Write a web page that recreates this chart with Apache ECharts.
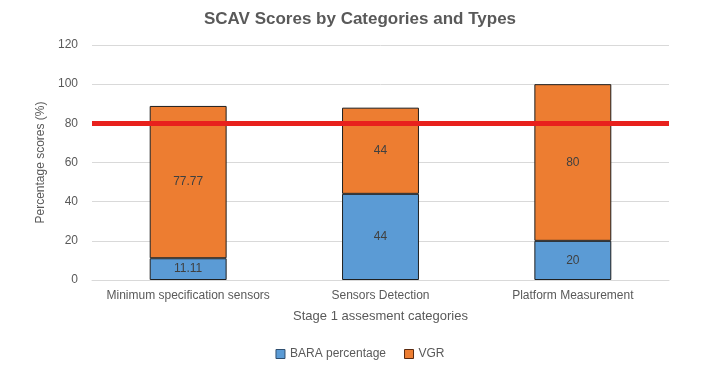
<!DOCTYPE html>
<html><head><meta charset="utf-8">
<script src="https://cdn.jsdelivr.net/npm/echarts@6/dist/echarts.min.js"></script>
<style>html,body{margin:0;padding:0;background:#fff}#c{width:720px;height:371px}</style>
</head><body><div id="c"></div>
<script>
const categories = ['Minimum specification sensors', 'Sensors Detection', 'Platform Measurement'];
const baraValues = [11.11, 44, 20];
const vgrValues = [77.77, 44, 80];
const thresholdValue = 80;
const yTicks = {min: 0, max: 120, interval: 20};

const font = 'Liberation Sans, Arial, sans-serif';
const chart = echarts.init(document.getElementById('c'));
chart.setOption({
  animation: false,
  textStyle: {fontFamily: font},
  title: {text: 'SCAV Scores by Categories and Types', left: 'center', top: 6,
    textStyle: {fontSize: 17, fontWeight: 'bold', color: '#595959', fontFamily: font}},
  legend: {bottom: 6, left: 'center', itemWidth: 9, itemHeight: 9, itemGap: 18, icon: 'rect',
    textStyle: {color: '#595959', fontSize: 12},
    data: [{name: 'BARA percentage', itemStyle: {borderColor: '#2f4f70', borderWidth: 1}},
           {name: 'VGR', itemStyle: {borderColor: '#5a2a10', borderWidth: 1}}]},
  grid: {left: 92, right: 51, top: 45, bottom: 91},
  xAxis: {type: 'category', data: categories,
    name: 'Stage 1 assesment categories', nameLocation: 'middle', nameGap: 30,
    nameTextStyle: {color: '#595959', fontSize: 13},
    axisLine: {lineStyle: {color: '#d9d9d9'}}, axisTick: {show: false},
    axisLabel: {color: '#595959', fontSize: 12, margin: 10, interval: 0}},
  yAxis: {type: 'value', min: yTicks.min, max: yTicks.max, interval: yTicks.interval,
    name: 'Percentage scores (%)', nameLocation: 'middle', nameGap: 40, nameRotate: 90,
    nameTextStyle: {color: '#595959', fontSize: 12},
    axisLine: {show: false}, axisTick: {show: false},
    axisLabel: {color: '#595959', fontSize: 12, margin: 14},
    splitLine: {lineStyle: {color: '#d9d9d9'}}},
  series: [
    {name: 'BARA percentage', type: 'bar', stack: 's', data: baraValues, barWidth: '40%',
     itemStyle: {color: '#5b9bd5', borderColor: '#1f1f1f', borderWidth: 1},
     label: {show: true, position: 'inside', color: '#404040', fontSize: 12}},
    {name: 'VGR', type: 'bar', stack: 's', data: vgrValues, barWidth: '40%',
     itemStyle: {color: '#ed7d31', borderColor: '#1f1f1f', borderWidth: 1},
     label: {show: true, position: 'inside', color: '#404040', fontSize: 12},
     markLine: {silent: true, symbol: 'none', label: {show: false},
       lineStyle: {color: '#e8211d', width: 5, type: 'solid'},
       data: [{yAxis: thresholdValue}]}}
  ]
});
</script></body></html>
